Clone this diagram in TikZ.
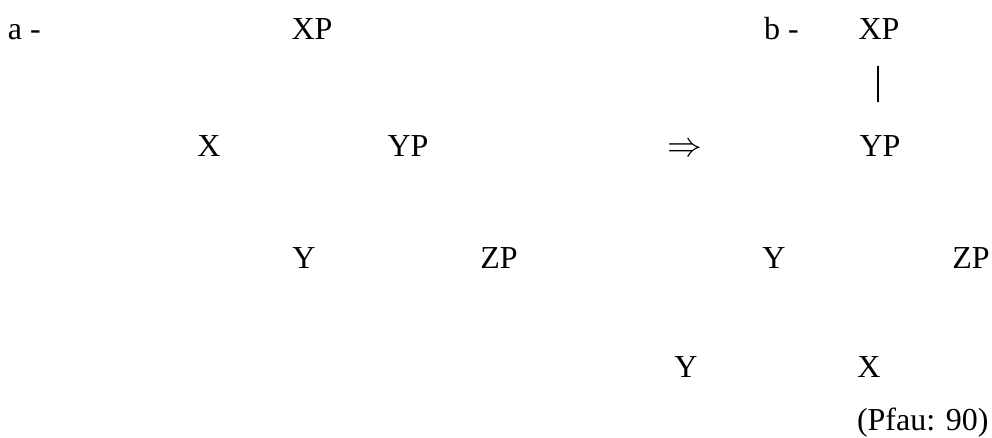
\documentclass[tikz,border=0pt]{standalone}
\usepackage{fontspec}
\usepackage{graphicx}
\setmainfont{Liberation Serif}
\begin{document}
\begin{tikzpicture}[x=1pt,y=-1pt,
  lbl/.style={inner sep=0pt,outer sep=0pt,font=\fontsize{32}{38}\selectfont,anchor=base},
  lblw/.style={lbl,anchor=base west},
  edge/.style={line width=1.2pt}]
\useasboundingbox (0,0) rectangle (992,438);
% tree (a)
\node[lblw] (la)  at (8,40)    {a -};
\node[lbl]  (xpa) at (312,40)  {XP};
\node[lbl]  (xa)  at (209,157) {X};
\node[lbl]  (ypa) at (408,157) {YP};
\node[lbl]  (ya)  at (304,268) {Y};
\node[lbl]  (zpa) at (499,268) {ZP};
% arrow between the two trees
\node[lbl]  (arr) at (685,157) {\scalebox{1.4}{$\Rightarrow$}};
% tree (b)
\node[lblw] (lb)  at (764,40)  {b -};
\node[lbl]  (xpb) at (879,40)  {XP};
\node[lbl]  (ypb) at (880,157) {YP};
\node[lbl]  (yb)  at (774,268) {Y};
\node[lbl]  (zpb) at (971,268) {ZP};
\node[lbl]  (yc)  at (686,377) {Y};
\node[lbl]  (xc)  at (869,377) {X};
\node[lblw] (src) at (857,430) {(Pfau: 90)};
\draw[edge,shorten <=26pt,shorten >=34pt] ([xshift=-1pt]xpb.south) -- ([xshift=-2pt]ypb.north);
\end{tikzpicture}
\end{document}
